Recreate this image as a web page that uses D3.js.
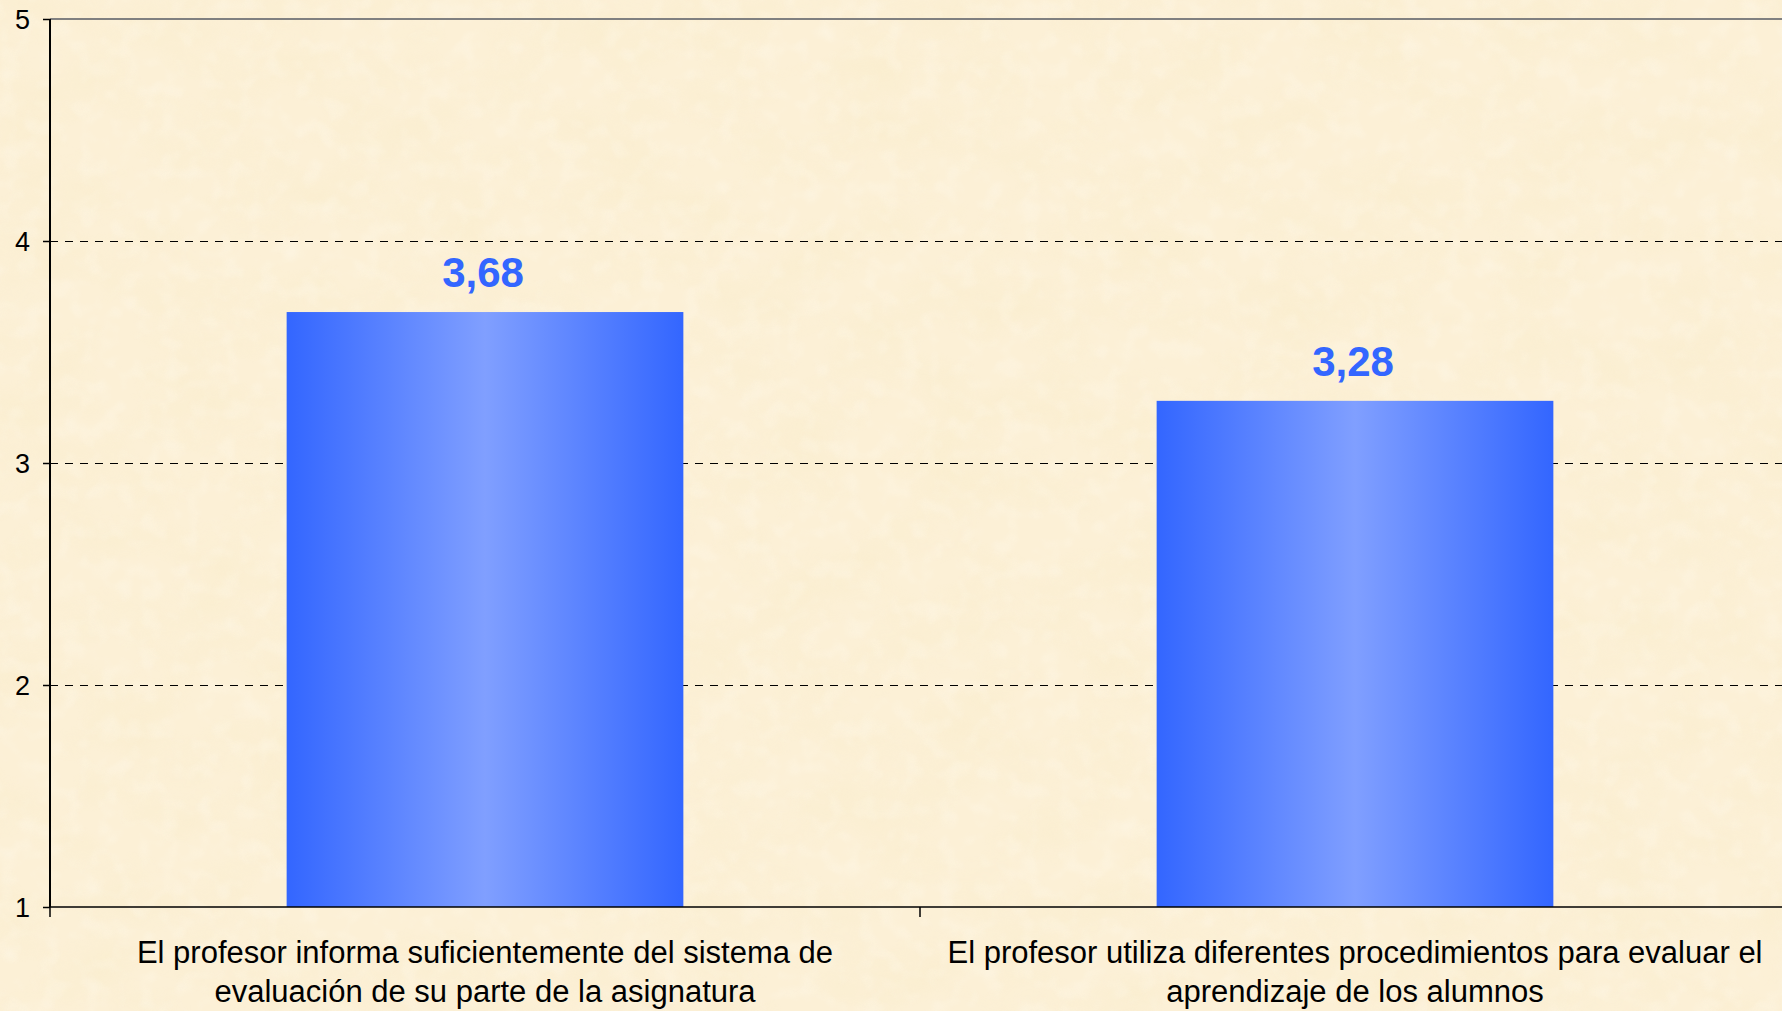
<!DOCTYPE html>
<html>
<head>
<meta charset="utf-8">
<script src="https://cdn.jsdelivr.net/npm/d3@7"></script>
<style>
html,body{margin:0;padding:0;overflow:hidden;background:#FCF0D6;}
svg{display:block;}
</style>
</head>
<body>
<svg id="chart" width="1782" height="1011"></svg>
<script>
// ---- data ----
const categories = [
  "El profesor informa suficientemente del sistema de evaluación de su parte de la asignatura",
  "El profesor utiliza diferentes procedimientos para evaluar el aprendizaje de los alumnos"
];
const categoryLines = [
  ["El profesor informa suficientemente del sistema de", "evaluación de su parte de la asignatura"],
  ["El profesor utiliza diferentes procedimientos para evaluar el", "aprendizaje de los alumnos"]
];
const values = [3.68, 3.28];
const valueLabels = ["3,68", "3,28"];
const yTicks = [1, 2, 3, 4, 5];

// ---- layout ----
const W = 1782, H = 1011;
const mLeft = 50, mRight = 1790, mTop = 19, mBottom = 907;
const svg = d3.select("#chart");
const defs = svg.append("defs");

// parchment texture
const f = defs.append("filter").attr("id","paper").attr("x",0).attr("y",0).attr("width","100%").attr("height","100%");
f.append("feTurbulence").attr("type","fractalNoise").attr("baseFrequency","0.012 0.018").attr("numOctaves",4).attr("seed",7).attr("result","n");
f.append("feColorMatrix").attr("in","n").attr("type","matrix")
  .attr("values","0 0 0 0 0.93  0 0 0 0 0.82  0 0 0 0 0.55  1.4 0 0 0 -0.55");
svg.append("rect").attr("width",W).attr("height",H).attr("fill","#FCF0D6");
svg.append("rect").attr("width",W).attr("height",H).attr("filter","url(#paper)").attr("opacity",0.45);
const f2 = defs.append("filter").attr("id","paper2").attr("x",0).attr("y",0).attr("width","100%").attr("height","100%");
f2.append("feTurbulence").attr("type","fractalNoise").attr("baseFrequency","0.05").attr("numOctaves",2).attr("seed",3).attr("result","n");
f2.append("feColorMatrix").attr("in","n").attr("type","matrix")
  .attr("values","0 0 0 0 1  0 0 0 0 0.98  0 0 0 0 0.92  0 1.2 0 0 -0.55");
svg.append("rect").attr("width",W).attr("height",H).attr("filter","url(#paper2)").attr("opacity",0.5);

// gradient
const g = defs.append("linearGradient").attr("id","barGrad").attr("x1","0%").attr("x2","100%").attr("y1","0%").attr("y2","0%");
[["0%","#3366FF"],["50%","#809FFF"],["100%","#3366FF"]].forEach(s=>g.append("stop").attr("offset",s[0]).attr("stop-color",s[1]));

// scales
const x = d3.scaleBand().domain(categories).range([mLeft, mRight]).paddingInner(0.544).paddingOuter(0.272);
const y = d3.scaleLinear().domain([1,5]).range([mBottom, mTop]);
const step = x.step();

// gridlines
svg.append("g").selectAll("line").data(yTicks.filter(t=>t>1 && t<5)).join("line")
  .attr("x1",mLeft).attr("x2",mRight).attr("y1",d=>y(d)).attr("y2",d=>y(d))
  .attr("stroke","#000").attr("stroke-width",1).attr("stroke-dasharray","8,7").attr("shape-rendering","crispEdges");
// top border
svg.append("line").attr("x1",mLeft).attr("x2",mRight).attr("y1",y(5)).attr("y2",y(5))
  .attr("stroke","#808080").attr("stroke-width",2);

// bars
svg.append("g").selectAll("rect").data(values).join("rect")
  .attr("x",(d,i)=>x(categories[i])).attr("width",x.bandwidth())
  .attr("y",d=>y(d)).attr("height",d=>y(1)-y(d))
  .attr("fill","url(#barGrad)");

// value labels
svg.append("g").selectAll("text").data(values).join("text")
  .attr("x",(d,i)=>x(categories[i])+x.bandwidth()/2-2)
  .attr("y",d=>y(d)-25)
  .attr("text-anchor","middle")
  .attr("font-family","'Liberation Sans', Arial, sans-serif")
  .attr("font-weight","bold").attr("font-size",42).attr("fill","#3366FF")
  .text((d,i)=>valueLabels[i]);

// y axis
const yAxis = d3.axisLeft(y).tickValues(yTicks).tickSize(7).tickPadding(13).tickFormat(d3.format("d"));
const ya = svg.append("g").attr("transform",`translate(${mLeft},0)`).call(yAxis);
ya.select(".domain").attr("stroke","#000").attr("stroke-width",2).attr("d",`M0,${mTop}V${mBottom}`);
ya.selectAll(".tick line").attr("stroke","#000").attr("stroke-width",1.5);
ya.selectAll(".tick text").attr("font-family","'Liberation Sans', Arial, sans-serif").attr("font-size",27).attr("fill","#000").attr("dy","0.36em");

// x axis
svg.append("line").attr("x1",mLeft).attr("x2",mRight).attr("y1",mBottom).attr("y2",mBottom)
  .attr("stroke","#000").attr("stroke-width",1.5);
const bounds = [mLeft, mLeft+step, mLeft+2*step];
svg.append("g").selectAll("line").data(bounds).join("line")
  .attr("x1",d=>d).attr("x2",d=>d).attr("y1",mBottom).attr("y2",mBottom+10)
  .attr("stroke","#000").attr("stroke-width",1.5);

// category labels
const cl = svg.append("g").selectAll("text").data(categories).join("text")
  .attr("x",d=>x(d)+x.bandwidth()/2)
  .attr("y",963)
  .attr("text-anchor","middle")
  .attr("font-family","'Liberation Sans', Arial, sans-serif")
  .attr("font-size",31).attr("fill","#000");
cl.each(function(d,i){
  const t = d3.select(this);
  categoryLines[i].forEach((ln,j)=>{
    t.append("tspan").attr("x",x(d)+x.bandwidth()/2).attr("dy", j===0?0:39).text(ln);
  });
});
</script>
</body>
</html>
